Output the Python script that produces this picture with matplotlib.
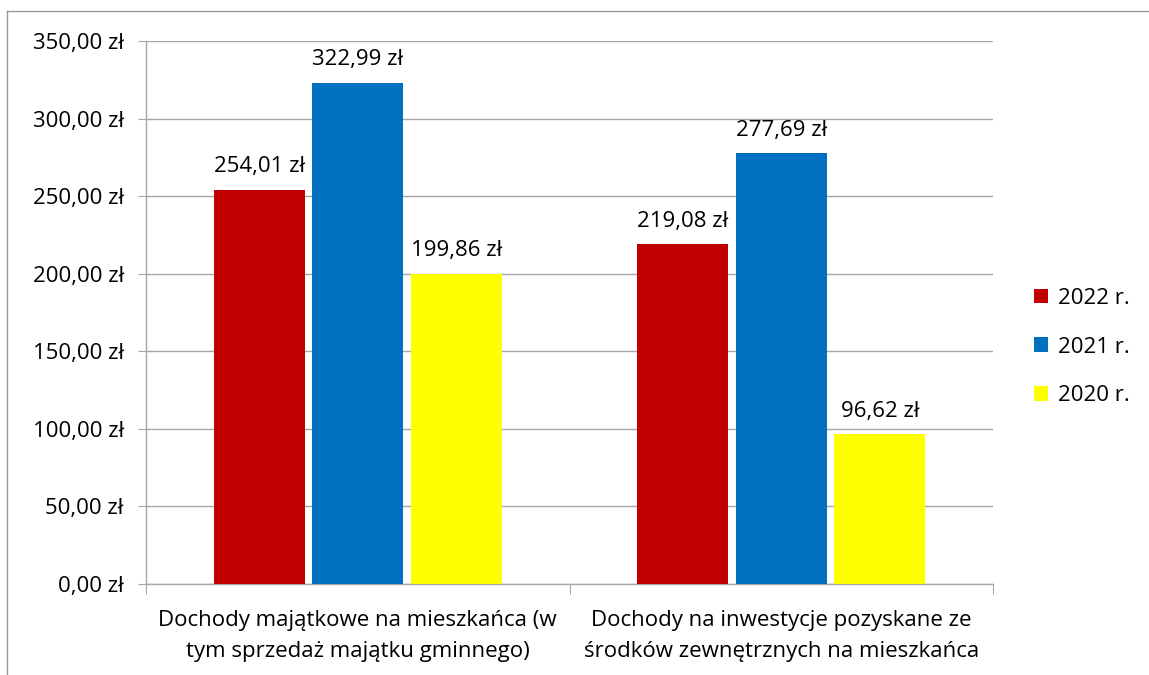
import matplotlib
matplotlib.use("Agg")
import matplotlib.pyplot as plt
from matplotlib.lines import Line2D
from matplotlib.patches import Patch
import numpy as np

categories = ["Dochody majątkowe na mieszkańca (w\ntym sprzedaż majątku gminnego)",
              "Dochody na inwestycje pozyskane ze\nśrodków zewnętrznych na mieszkańca"]
series_names = ["2022 r.", "2021 r.", "2020 r."]
values_2022 = [254.01, 219.08]
values_2021 = [322.99, 277.69]
values_2020 = [199.86, 96.62]
colors = ["#C00000", "#0070C0", "#FFFF00"]
yticks = [0, 50, 100, 150, 200, 250, 300, 350]

def fmt(v):
    return f"{v:.2f}".replace(".", ",") + " zł"

plt.rcParams['font.family'] = ['Open Sans', 'DejaVu Sans']
FS = 16
W, H = 1149, 675
fig = plt.figure(figsize=(W/100, H/100), dpi=100)
ax = fig.add_axes([146/W, 1-584/H, (993-146)/W, (584-41)/H])

x = np.arange(len(categories))
bw = 0.215
step = 0.2326
data = [values_2022, values_2021, values_2020]
for i, (vals, c, name) in enumerate(zip(data, colors, series_names)):
    pos = x + (i-1)*step
    ax.bar(pos, vals, width=bw, color=c, label=name, zorder=3)
    for p, v in zip(pos, vals):
        ax.annotate(fmt(v), (p, v), xytext=(0, 9), textcoords='offset points',
                    ha='center', va='bottom', fontsize=FS, color='black')

ax.set_xlim(-0.5, 1.5)
ax.set_ylim(0, 350)
ax.set_yticks(yticks)
ax.set_yticklabels([fmt(v) for v in yticks], fontsize=FS)
ax.yaxis.grid(True, color='#a6a6a6', linewidth=1, zorder=0)
ax.set_axisbelow(True)
for s in ['top', 'right']:
    ax.spines[s].set_visible(False)
for s in ['left', 'bottom']:
    ax.spines[s].set_color('#a6a6a6')
    ax.spines[s].set_linewidth(1)
ax.tick_params(axis='y', length=6, color='#a6a6a6', pad=10)
ax.set_xticks([-0.5, 0.5, 1.5])
ax.set_xticklabels([])
ax.tick_params(axis='x', length=7, color='#a6a6a6', direction='out')
ax.set_xticks(x, minor=True)
ax.set_xticklabels(categories, minor=True, fontsize=FS, linespacing=1.62)
ax.tick_params(axis='x', which='minor', length=0, pad=19)

handles = [Patch(facecolor=c, label=n) for c, n in zip(colors, series_names)]
fig.legend(handles=handles, loc='center left', bbox_to_anchor=(1014/W, 1-347/H),
           frameon=False, fontsize=FS, handlelength=0.65, handleheight=0.65,
           labelspacing=1.25, handletextpad=0.45)

# outer border (partially visible)
fig.add_artist(Line2D([7/W, 7/W], [0, 1-11/H], transform=fig.transFigure, color='#999999', lw=1))
fig.add_artist(Line2D([7/W, 1], [1-11/H, 1-11/H], transform=fig.transFigure, color='#999999', lw=1))

fig.savefig("out.png", dpi=100)
